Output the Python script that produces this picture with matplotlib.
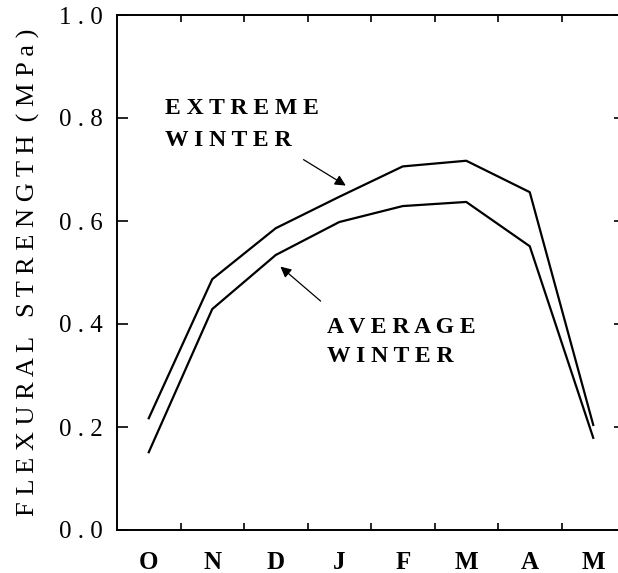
import numpy as np
import matplotlib.pyplot as plt

months = ['O', 'N', 'D', 'J', 'F', 'M', 'A', 'M']
month_pos = np.arange(len(months)) + 0.5
extreme = [0.217, 0.487, 0.586, 0.647, 0.706, 0.717, 0.656, 0.204]
average = [0.151, 0.429, 0.534, 0.598, 0.629, 0.637, 0.551, 0.179]
ytick_vals = [0.0, 0.2, 0.4, 0.6, 0.8, 1.0]


def spaced(s):
    return ' '.join(s)


def main():
    plt.rcParams['font.family'] = ['Liberation Serif', 'DejaVu Serif']
    fig = plt.figure(figsize=(6.18, 5.73), dpi=100)
    ax = fig.add_axes([117 / 618, 43 / 573, 508 / 618, 515 / 573])

    ax.plot(month_pos, extreme, color='black', lw=1.6)
    ax.plot(month_pos, average, color='black', lw=1.6)

    ax.set_xlim(0, 8)
    ax.set_ylim(0, 1.0)

    # month labels sit between the tick marks
    ax.set_xticks(np.arange(1, 8))
    ax.set_xticklabels([])
    ax.set_xticks(month_pos, minor=True)
    ax.set_xticklabels(months, minor=True, fontsize=18, fontweight='bold')
    ax.tick_params(axis='x', which='minor', length=0, pad=15)
    ax.tick_params(axis='x', which='major', direction='in', length=5,
                   top=True, width=1.2)

    ax.set_yticks(ytick_vals)
    ax.set_yticklabels([spaced('%.1f' % v) for v in ytick_vals], fontsize=18)
    ax.tick_params(axis='y', direction='in', length=8, right=True,
                   width=1.2, pad=10)

    for sp in ax.spines.values():
        sp.set_linewidth(1.4)

    ax.set_ylabel('F L E X U R A L   S T R E N G T H  ( M P a )',
                  fontsize=19, labelpad=14)

    ax.text(0.76, 0.788, spaced('EXTREME') + '\n' + spaced('WINTER'),
            fontsize=17, fontweight='bold', linespacing=1.7,
            va='center', ha='left')
    ax.text(3.3, 0.365, spaced('AVERAGE') + '\n' + spaced('WINTER'),
            fontsize=17, fontweight='bold', linespacing=1.5,
            va='center', ha='left')

    ax.annotate('', xy=(3.64, 0.666), xytext=(2.9, 0.722),
                arrowprops=dict(arrowstyle='-|>', color='black', lw=0.9,
                                mutation_scale=16))
    ax.annotate('', xy=(2.54, 0.515), xytext=(3.24, 0.441),
                arrowprops=dict(arrowstyle='-|>', color='black', lw=0.9,
                                mutation_scale=16))

    fig.savefig('out.png', dpi=100)


if __name__ == "__main__":
    main()
